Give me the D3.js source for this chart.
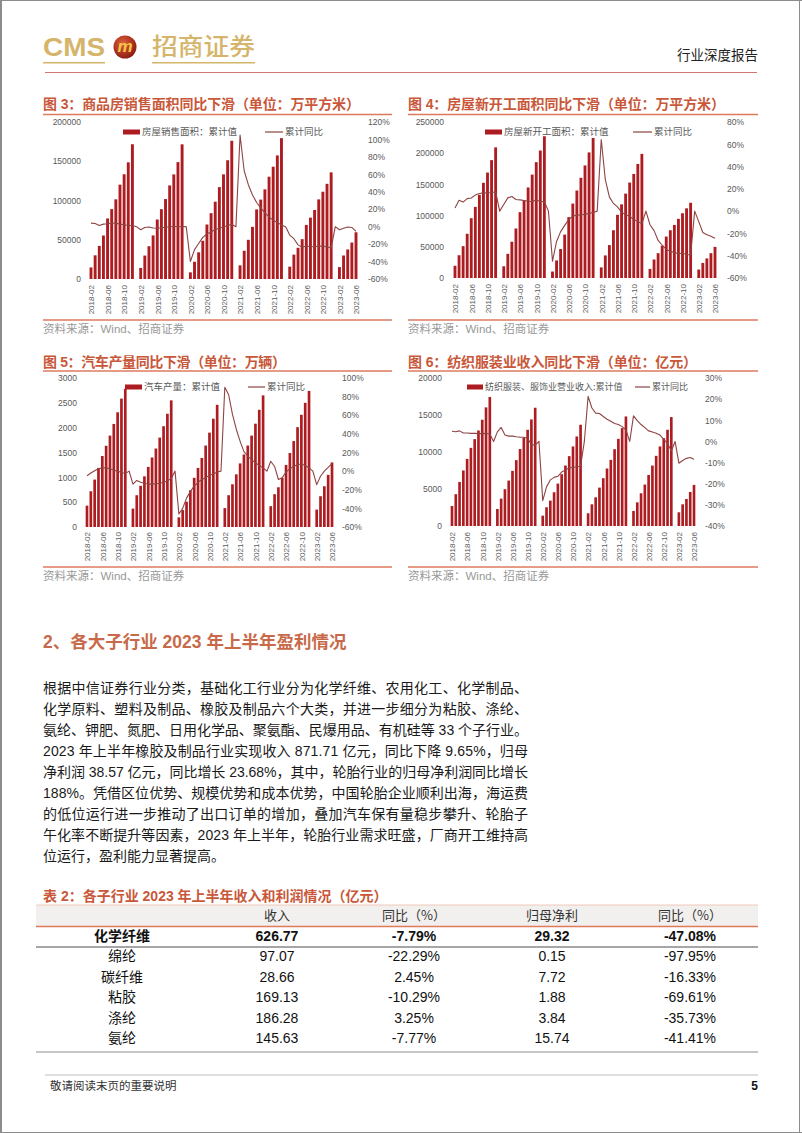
<!DOCTYPE html>
<html><head><meta charset="utf-8">
<script src="https://cdn.jsdelivr.net/npm/d3@7"></script>
<style>
body{margin:0;background:#fff;}
svg{display:block;}
</style></head><body>
<svg id="page" width="802" height="1133"></svg>
<script>
// ---------------- data ----------------
const months = [
"2018-02","2018-03","2018-04","2018-05","2018-06","2018-07","2018-08","2018-09","2018-10","2018-11","2018-12",
"2019-01","2019-02","2019-03","2019-04","2019-05","2019-06","2019-07","2019-08","2019-09","2019-10","2019-11","2019-12",
"2020-01","2020-02","2020-03","2020-04","2020-05","2020-06","2020-07","2020-08","2020-09","2020-10","2020-11","2020-12",
"2021-01","2021-02","2021-03","2021-04","2021-05","2021-06","2021-07","2021-08","2021-09","2021-10","2021-11","2021-12",
"2022-01","2022-02","2022-03","2022-04","2022-05","2022-06","2022-07","2022-08","2022-09","2022-10","2022-11","2022-12",
"2023-01","2023-02","2023-03","2023-04","2023-05","2023-06"];
const xTickLabels = ["2018-02","2018-06","2018-10","2019-02","2019-06","2019-10","2020-02","2020-06","2020-10",
"2021-02","2021-06","2021-10","2022-02","2022-06","2022-10","2023-02","2023-06"];

// 图3 商品房销售面积（万平方米）累计值 / 累计同比(%)
const salesArea = [
14723,30178,42144,55408,77143,89030,101476,120194,133433,148604,171654,
null,14102,29829,41749,55518,75786,88942,101849,119179,133251,148905,171558,
null,8475,21978,33973,48703,69404,83840,98486,117073,133294,151293,176086,
null,17363,36007,49919,66453,88635,101145,114193,130332,143041,157423,179433,
null,15703,31046,39768,50738,68923,78178,87890,101422,111179,121250,135837,
null,15133,29946,37636,46440,59515];
const salesYoY = [
4.1,3.6,1.3,2.9,3.3,4.2,4.0,2.9,2.2,1.4,1.3,
0,-3.6,-0.9,-0.3,-1.6,-1.8,-1.3,-0.6,-0.1,0.2,0.2,-0.1,
0,-39.9,-26.3,-19.3,-12.3,-8.4,-6.1,-3.3,-1.8,-0.3,1.3,2.6,
0,104.9,63.8,48.1,36.3,27.7,21.5,15.9,11.3,7.3,4.8,1.9,
0,-9.6,-13.8,-20.9,-23.6,-22.2,-23.1,-23.0,-22.2,-22.3,-23.3,-24.3,
0,-3.6,-1.8,-0.4,-0.9,-5.3];
const salesTicks = [0,50000,100000,150000,200000];
const salesPctTicks = [-60,-40,-20,0,20,40,60,80,100,120];

// 图4 房屋新开工面积
const startsArea = [
19590,36482,51026,70856,95817,113941,133232,152583,168958,188895,209342,
null,18814,38728,58143,79339,105509,124467,145112,165707,185634,204283,227154,
null,10372,28110,46428,69533,97537,119265,140160,160580,180362,201247,224433,
null,17009,36163,52768,76500,101288,118007,135240,152944,166736,182820,198895,
null,14572,29638,39739,51628,66423,76537,85062,94767,103722,111632,120587,
null,13567,24121,31352,39723,49880];
const startsYoY = [
2.9,9.7,8.1,11.2,11.8,14.4,15.9,16.4,16.3,16.8,17.2,
0,6.0,11.9,13.1,10.5,10.1,9.5,8.9,8.6,10.0,8.6,8.5,
0,-44.9,-27.2,-18.4,-12.8,-7.6,-4.5,-3.6,-3.4,-2.8,-2.0,-1.2,
0,64.3,28.2,12.8,6.9,3.8,-0.9,-3.2,-4.5,-7.7,-9.1,-11.4,
0,-12.2,-17.5,-26.3,-30.6,-34.4,-36.1,-37.2,-38.0,-37.8,-38.9,-39.4,
0,-9.4,-19.2,-21.2,-22.6,-24.3];
const startsTicks = [0,50000,100000,150000,200000,250000];
const startsPctTicks = [-60,-40,-20,0,20,40,60,80];

// 图5 汽车产量（万辆）
const autoOutput = [
430,720,955,1190,1430,1635,1840,2075,2310,2585,2780,
null,370,640,830,1020,1210,1400,1580,1800,2030,2280,2550,
null,195,340,510,740,990,1190,1390,1640,1900,2180,2460,
null,380,640,860,1060,1280,1460,1640,1840,2080,2360,2650,
null,420,660,800,990,1250,1490,1730,2010,2260,2500,2740,
null,350,620,820,1050,1300];
const autoYoY = [
-5,-2,0.5,2.5,3.5,3.5,2.5,1,0,-1.5,-2.5,
0,-14,-10,-12,-13,-14,-14,-13.5,-13,-12,-10.5,-8,
0,-46,-40,-29,-22,-16,-12,-9,-7,-4.5,-3,-1,
0,90,82,61,45,32,21,16,12,9,6,3.5,
0,10.6,5,-9,-7,-1,2.7,5,7,7.7,6,3.5,
0,-14.5,-5.5,0,4,8];
const autoTicks = [0,500,1000,1500,2000,2500,3000];
const autoPctTicks = [-60,-40,-20,0,20,40,60,80,100];

// 图6 纺织服装、服饰业营业收入（亿元）
const textileRevenue = [
2700,4300,5950,7500,9070,10560,11740,12910,14360,16030,17430,
null,2300,3700,4970,6140,7450,8900,10400,11900,13000,14400,15980,
null,1400,2530,3430,4560,5730,7000,8170,9440,10750,12100,13680,
null,1720,2930,3880,5190,6460,7770,8940,10380,11780,13230,14800,
null,2030,3200,4420,5600,6900,8170,9480,10750,11870,13000,14720,
null,1850,2930,3650,4600,5550];
const textileYoY = [
4.8,4.6,5.0,4.0,4.0,3.8,3.8,3.7,3.7,3.8,3.5,
0,4.5,6.6,3.0,2.5,2.5,2.2,2.0,2.0,1.5,-1.5,-1.8,
0,-28,-21.5,-18.2,-17,-16.5,-14.5,-13.5,-12.5,-12.3,-12,-11.8,
0,21.3,15.8,13.4,13.2,11.8,10.5,9.5,8.5,8,7,5.5,
0,12.1,9.8,8,6.5,5,4.5,3.9,3,1,-1,-4.5,
0,-10.3,-9,-8,-7.6,-8.4];
const textileTicks = [0,5000,10000,15000,20000];
const textilePctTicks = [-40,-30,-20,-10,0,10,20,30];

// 表2
const tableHeaders = ["", "收入", "同比（%）", "归母净利", "同比（%）"];
const subIndustries = ["化学纤维","绵纶","碳纤维","粘胶","涤纶","氨纶"];
const revenue = ["626.77","97.07","28.66","169.13","186.28","145.63"];
const revenueYoY = ["-7.79%","-22.29%","2.45%","-10.29%","3.25%","-7.77%"];
const netProfit = ["29.32","0.15","7.72","1.88","3.84","15.74"];
const netProfitYoY = ["-47.08%","-97.95%","-16.33%","-69.61%","-35.73%","-41.41%"];

const bodyLines = [
"根据中信证券行业分类，基础化工行业分为化学纤维、农用化工、化学制品、",
"化学原料、塑料及制品、橡胶及制品六个大类，并进一步细分为粘胶、涤纶、",
"氨纶、钾肥、氮肥、日用化学品、聚氨酯、民爆用品、有机硅等 33 个子行业。",
"2023 年上半年橡胶及制品行业实现收入 871.71 亿元，同比下降 9.65%，归母",
"净利润 38.57 亿元，同比增长 23.68%，其中，轮胎行业的归母净利润同比增长",
"188%。凭借区位优势、规模优势和成本优势，中国轮胎企业顺利出海，海运费",
"的低位运行进一步推动了出口订单的增加，叠加汽车保有量稳步攀升、轮胎子",
"午化率不断提升等因素，2023 年上半年，轮胎行业需求旺盛，厂商开工维持高",
"位运行，盈利能力显著提高。"];

// ---------------- styles ----------------
const CJK = '"Noto Sans CJK SC", sans-serif';
const LAT = '"Liberation Sans", Arial, "Noto Sans CJK SC", sans-serif';
const BAR_C = "#ad1c20", LINE_C = "#8e4444", TITLE_C = "#c9583a", RULE_C = "#dd7a5c";
const TICK_C = "#595959", SRC_C = "#999999", GOLD = "#d5b56b";

const svg = d3.select("#page");

// page frame
svg.append("line").attr("x1",1).attr("x2",1).attr("y1",0).attr("y2",1133).attr("stroke","#8c8c8c").attr("stroke-width",2);
svg.append("line").attr("x1",0).attr("x2",802).attr("y1",0.5).attr("y2",0.5).attr("stroke","#8c8c8c");
svg.append("line").attr("x1",799.5).attr("x2",799.5).attr("y1",0).attr("y2",1133).attr("stroke","#8c8c8c");
svg.append("line").attr("x1",0).attr("x2",802).attr("y1",1132.5).attr("y2",1132.5).attr("stroke","#8c8c8c");

// ---------------- header ----------------
svg.append("text").attr("x",43).attr("y",56).attr("font-family",'"Liberation Sans Narrow","Liberation Sans",Arial,sans-serif')
  .attr("font-weight","bold").attr("font-size",26).attr("fill",GOLD)
  .attr("textLength",62).attr("lengthAdjust","spacingAndGlyphs").text("CMS");
const grad = svg.append("defs").append("radialGradient").attr("id","emb").attr("cx","40%").attr("cy","35%").attr("r","70%");
grad.append("stop").attr("offset","0%").attr("stop-color","#e0603a");
grad.append("stop").attr("offset","100%").attr("stop-color","#8a1810");
svg.append("circle").attr("cx",125).attr("cy",47).attr("r",11.5).attr("fill","url(#emb)");
svg.append("text").attr("x",125).attr("y",52).attr("text-anchor","middle").attr("font-family",LAT)
  .attr("font-weight","bold").attr("font-style","italic").attr("font-size",17).attr("fill","#f2c744").text("m");
svg.append("text").attr("x",152).attr("y",55).attr("font-family",CJK).attr("font-weight",500)
  .attr("font-size",24).attr("fill",GOLD).attr("textLength",103).attr("lengthAdjust","spacingAndGlyphs").text("招商证券");
svg.append("line").attr("x1",43).attr("x2",105).attr("y1",62.7).attr("y2",62.7).attr("stroke",GOLD).attr("stroke-width",1.5);
svg.append("line").attr("x1",152).attr("x2",255).attr("y1",62.7).attr("y2",62.7).attr("stroke",GOLD).attr("stroke-width",1.5);
svg.append("text").attr("x",677).attr("y",55).attr("dy","0.35em").attr("font-family",CJK).attr("font-size",13.5)
  .attr("fill","#222").text("行业深度报告");
svg.append("line").attr("x1",45).attr("x2",757).attr("y1",72.5).attr("y2",72.5).attr("stroke","#d27676").attr("stroke-width",1);

// ---------------- charts ----------------
function drawChart(cfg, barVals, lineVals) {
  const g = svg.append("g");
  g.append("text").attr("x",cfg.left).attr("y",cfg.titleY).attr("dy","0.35em")
    .attr("font-family",LAT).attr("font-weight","bold").attr("font-size",14).attr("fill",TITLE_C)
    .attr("textLength",cfg.titleW).attr("lengthAdjust","spacing").text(cfg.title);
  g.append("line").attr("x1",cfg.left).attr("x2",cfg.right).attr("y1",cfg.ruleY).attr("y2",cfg.ruleY)
    .attr("stroke",RULE_C).attr("stroke-width",1.3);

  const x = d3.scalePoint().domain(months).range([cfg.x0, cfg.x1]);
  const bw = x.step() * 0.7;
  const yL = d3.scaleLinear().domain(cfg.leftDomain).range([cfg.yB, cfg.yT]);
  const yR = d3.scaleLinear().domain(cfg.rightDomain).range([cfg.yB, cfg.yT]);

  const barData = months.map((m, i) => ({m, v: barVals[i]})).filter(d => d.v !== null);
  g.append("g").selectAll("rect").data(barData).join("rect")
    .attr("x", d => x(d.m) - bw / 2).attr("width", bw)
    .attr("y", d => yL(d.v)).attr("height", d => yL(0) - yL(d.v)).attr("fill", BAR_C);

  const lineGen = d3.line().x((d, i) => x(months[i])).y(d => yR(d));
  g.append("path").datum(lineVals).attr("d", lineGen).attr("fill","none")
    .attr("stroke", LINE_C).attr("stroke-width", 1.1).attr("stroke-linejoin","round");

  const axL = g.append("g").attr("transform",`translate(${cfg.lLabX},0)`)
    .call(d3.axisLeft(yL).tickValues(cfg.leftTicks).tickSize(0).tickPadding(0).tickFormat(d3.format("d")));
  const axR = g.append("g").attr("transform",`translate(${cfg.rLabX},0)`)
    .call(d3.axisRight(yR).tickValues(cfg.rightTicks).tickSize(0).tickPadding(0).tickFormat(d => d + "%"));
  const axB = g.append("g").attr("transform",`translate(0,${cfg.xLabY})`)
    .call(d3.axisBottom(x).tickValues(xTickLabels).tickSize(0));
  axB.selectAll("text").attr("y",0).attr("x",0).attr("dy","0.35em")
    .attr("transform","rotate(-90)").style("text-anchor","end");
  [axL, axR, axB].forEach(a => {
    a.select(".domain").remove();
    a.attr("font-family", LAT).attr("font-size", 8.5);
    a.selectAll("text").attr("fill", TICK_C);
  });
  axB.attr("font-size", 8);

  // legend
  g.append("rect").attr("x",cfg.lgBarX).attr("y",cfg.lgY-2.5).attr("width",cfg.lgBarW).attr("height",5).attr("fill",BAR_C);
  g.append("text").attr("x",cfg.lgBarX+cfg.lgBarW+2).attr("y",cfg.lgY).attr("dy","0.35em")
    .attr("font-family",CJK).attr("font-size",cfg.lgFont).attr("fill",TICK_C).text(cfg.barName);
  g.append("line").attr("x1",cfg.lgLineX).attr("x2",cfg.lgLineX+cfg.lgLineW).attr("y1",cfg.lgY).attr("y2",cfg.lgY)
    .attr("stroke",LINE_C).attr("stroke-width",1.2);
  g.append("text").attr("x",cfg.lgLineX+cfg.lgLineW+2).attr("y",cfg.lgY).attr("dy","0.35em")
    .attr("font-family",CJK).attr("font-size",cfg.lgFont).attr("fill",TICK_C).text("累计同比");

  g.append("line").attr("x1",cfg.left).attr("x2",cfg.right).attr("y1",cfg.botY).attr("y2",cfg.botY)
    .attr("stroke",RULE_C).attr("stroke-width",1.3);
  g.append("text").attr("x",cfg.left).attr("y",cfg.srcY).attr("dy","0.35em")
    .attr("font-family",LAT).attr("font-size",11.5).attr("fill",SRC_C).text("资料来源：Wind、招商证券");
}

drawChart({title:"图 3：商品房销售面积同比下滑（单位：万平方米）", left:43, right:392, titleY:104.5, titleW:317, ruleY:114.5,
  x0:91, x1:356, yT:122, yB:279, leftDomain:[0,200000], leftTicks:salesTicks, rightDomain:[-60,120], rightTicks:salesPctTicks,
  lLabX:81, rLabX:368, xLabY:285, lgY:132, lgBarX:123, lgBarW:17, lgLineX:265, lgLineW:18, lgFont:9.5,
  barName:"房屋销售面积：累计值", botY:320, srcY:328.5}, salesArea, salesYoY);

drawChart({title:"图 4：房屋新开工面积同比下滑（单位：万平方米）", left:408, right:758, titleY:104.5, titleW:317, ruleY:114.5,
  x0:455, x1:715, yT:122, yB:278, leftDomain:[0,250000], leftTicks:startsTicks, rightDomain:[-60,80], rightTicks:startsPctTicks,
  lLabX:444, rLabX:727, xLabY:284, lgY:132, lgBarX:485, lgBarW:17, lgLineX:633, lgLineW:19, lgFont:9.5,
  barName:"房屋新开工面积：累计值", botY:320, srcY:328.5}, startsArea, startsYoY);

drawChart({title:"图 5：汽车产量同比下滑（单位：万辆）", left:43, right:392, titleY:362, titleW:243, ruleY:371,
  x0:87, x1:332, yT:378, yB:527, leftDomain:[0,3000], leftTicks:autoTicks, rightDomain:[-60,100], rightTicks:autoPctTicks,
  lLabX:77, rLabX:342, xLabY:532, lgY:387, lgBarX:125, lgBarW:17, lgLineX:248, lgLineW:17, lgFont:9.5,
  barName:"汽车产量：累计值", botY:567, srcY:575.5}, autoOutput, autoYoY);

drawChart({title:"图 6：纺织服装业收入同比下滑（单位：亿元）", left:408, right:758, titleY:362, titleW:289, ruleY:371,
  x0:452, x1:694, yT:378, yB:526, leftDomain:[0,20000], leftTicks:textileTicks, rightDomain:[-40,30], rightTicks:textilePctTicks,
  lLabX:442, rLabX:705, xLabY:532, lgY:387, lgBarX:467, lgBarW:16, lgLineX:635, lgLineW:15, lgFont:9,
  barName:"纺织服装、服饰业营业收入:累计值", botY:567, srcY:575.5}, textileRevenue, textileYoY);

// ---------------- section heading & body ----------------
svg.append("text").attr("x",43).attr("y",642).attr("dy","0.35em").attr("font-family",LAT)
  .attr("font-weight","bold").attr("font-size",17.5).attr("fill","#c86a4a").text("2、各大子行业 2023 年上半年盈利情况");
bodyLines.forEach((t, i) => {
  const tx = svg.append("text").attr("x",43).attr("y",688 + i * 21).attr("dy","0.35em")
    .attr("font-family",LAT).attr("font-size",14).attr("fill","#1a1a1a").text(t);
  if (i < bodyLines.length - 1) tx.attr("textLength",485).attr("lengthAdjust","spacing");
});

// ---------------- table ----------------
svg.append("text").attr("x",43).attr("y",896).attr("dy","0.35em").attr("font-family",LAT)
  .attr("font-weight","bold").attr("font-size",14).attr("fill",TITLE_C).text("表 2：各子行业 2023 年上半年收入和利润情况（亿元）");
const colX = [122, 277, 414, 552, 690];
svg.append("rect").attr("x",36).attr("y",905).attr("width",722).attr("height",21).attr("fill","#f2f0ef");
svg.append("line").attr("x1",36).attr("x2",758).attr("y1",905).attr("y2",905).attr("stroke","#f0c8b8").attr("stroke-width",1);
svg.append("line").attr("x1",36).attr("x2",758).attr("y1",926.5).attr("y2",926.5).attr("stroke","#e07a5c").attr("stroke-width",1.5);
tableHeaders.forEach((h, j) => {
  svg.append("text").attr("x",colX[j]).attr("y",915.5).attr("dy","0.35em").attr("text-anchor","middle")
    .attr("font-family",CJK).attr("font-size",13).attr("fill","#333").text(h);
});
const rowY = [936, 956.5, 977, 997.5, 1018, 1038.5];
subIndustries.forEach((name, i) => {
  const cells = [name, revenue[i], revenueYoY[i], netProfit[i], netProfitYoY[i]];
  cells.forEach((c, j) => {
    svg.append("text").attr("x",colX[j]).attr("y",rowY[i]).attr("dy","0.35em").attr("text-anchor","middle")
      .attr("font-family", j === 0 ? CJK : LAT).attr("font-size",14)
      .attr("font-weight", i === 0 ? "bold" : "normal").attr("fill","#111").text(c);
  });
});
svg.append("line").attr("x1",36).attr("x2",758).attr("y1",947).attr("y2",947).attr("stroke","#a6a6a6").attr("stroke-width",2);
svg.append("line").attr("x1",36).attr("x2",758).attr("y1",1052).attr("y2",1052).attr("stroke","#8c8c8c").attr("stroke-width",1);

// ---------------- footer ----------------
svg.append("line").attr("x1",45).attr("x2",758).attr("y1",1075).attr("y2",1075).attr("stroke","#bdbdbd").attr("stroke-width",1);
svg.append("text").attr("x",50).attr("y",1086).attr("dy","0.35em").attr("font-family",CJK).attr("font-size",11.5)
  .attr("fill","#333").text("敬请阅读末页的重要说明");
svg.append("text").attr("x",758).attr("y",1086).attr("dy","0.35em").attr("text-anchor","end").attr("font-family",LAT)
  .attr("font-weight","bold").attr("font-size",12).attr("fill","#111").text("5");
</script></body></html>
